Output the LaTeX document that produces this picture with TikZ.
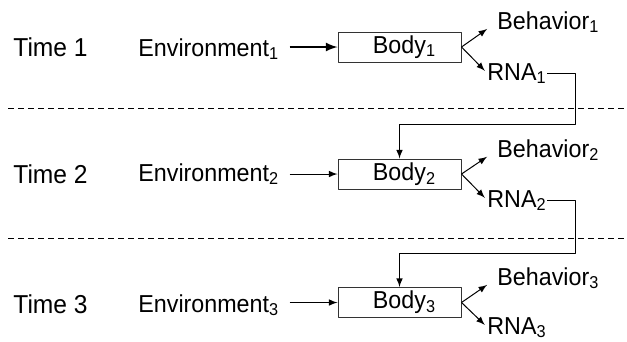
\documentclass[tikz,border=0pt]{standalone}
\usepackage{fontspec}
\setmainfont[FakeStretch=0.95]{Liberation Sans}
\usetikzlibrary{positioning}
\begin{document}
\begin{tikzpicture}[>=latex,line join=bevel,x=0.5bp,y=-0.5bp,
  lbl/.style={inner sep=0pt,anchor=west,text height=0.72em,text depth=0pt,font=\fontsize{12.3}{14}\selectfont},
  timelbl/.style={lbl,font=\fontsize{13}{15}\selectfont},
  bodybox/.style={draw=black!80,line width=0.5bp,minimum width=61.5bp,minimum height=15bp,inner sep=0pt,font=\fontsize{12.3}{14}\selectfont},
  flow/.style={->,line width=0.5bp},
  sep/.style={dash pattern=on 3bp off 2bp,line width=0.5bp}]
  \useasboundingbox (0,0) rectangle (627,341);
%%
  % Separators between the time steps
  \draw [sep] (8,108) -- (627,108);
  \draw [sep] (8,238) -- (627,238);
  % Node: Time 1
  \node [timelbl] (time1) at (13,49) {Time 1};
  \node [lbl] (env1) at (138,49) {Environment\textsubscript{1}};
  \node [bodybox] (body1) at (399.5,47) {\hspace{5bp}Body\textsubscript{1}};
  \node [lbl] (beh1) at (497,22) {Behavior\textsubscript{1}};
  \node [lbl] (rna1) at (487,73) {RNA\textsubscript{1}};
  % Node: Time 2
  \node [timelbl] (time2) at (13,176) {Time 2};
  \node [lbl] (env2) at (138,174) {Environment\textsubscript{2}};
  \node [bodybox] (body2) at (399.5,174) {\hspace{5bp}Body\textsubscript{2}};
  \node [lbl] (beh2) at (497,150) {Behavior\textsubscript{2}};
  \node [lbl] (rna2) at (487,200) {RNA\textsubscript{2}};
  % Node: Time 3
  \node [timelbl] (time3) at (13,306) {Time 3};
  \node [lbl] (env3) at (138,305) {Environment\textsubscript{3}};
  \node [bodybox] (body3) at (399.5,302.5) {\hspace{5bp}Body\textsubscript{3}};
  \node [lbl] (beh3) at (497,278) {Behavior\textsubscript{3}};
  \node [lbl] (rna3) at (487,327) {RNA\textsubscript{3}};
  % Bends of the RNA lines
  \coordinate (turn1) at (575,124);
  \coordinate (turn2) at (575,253);
  % Edge: Environment -> Body
  \draw [flow,line width=1bp,shorten <=5bp] (env1.east |- body1.west) -- (body1.west);
  \draw [flow,shorten <=5bp] (env2.east |- body2.west) -- (body2.west);
  \draw [flow,shorten <=5bp] (env3.east |- body3.west) -- (body3.west);
  % Edge: Body -> Behavior, Body -> RNA
  \draw [flow,shorten >=6bp] (body1.east) -- (beh1.west);
  \draw [flow,shorten >=1.5bp] (body1.east) -- (rna1.west);
  \draw [flow,shorten >=6bp] (body2.east) -- (beh2.west);
  \draw [flow,shorten >=1.5bp] (body2.east) -- (rna2.west);
  \draw [flow,shorten >=6bp] (body3.east) -- (beh3.west);
  \draw [flow,shorten >=1.5bp] (body3.east) -- (rna3.west);
  % Edge: RNA -> next Body
  \draw [flow] (rna1.east) -| (turn1) -| (body2.north);
  \draw [flow] (rna2.east) -| (turn2) -| (body3.north);
%
\end{tikzpicture}
\end{document}
